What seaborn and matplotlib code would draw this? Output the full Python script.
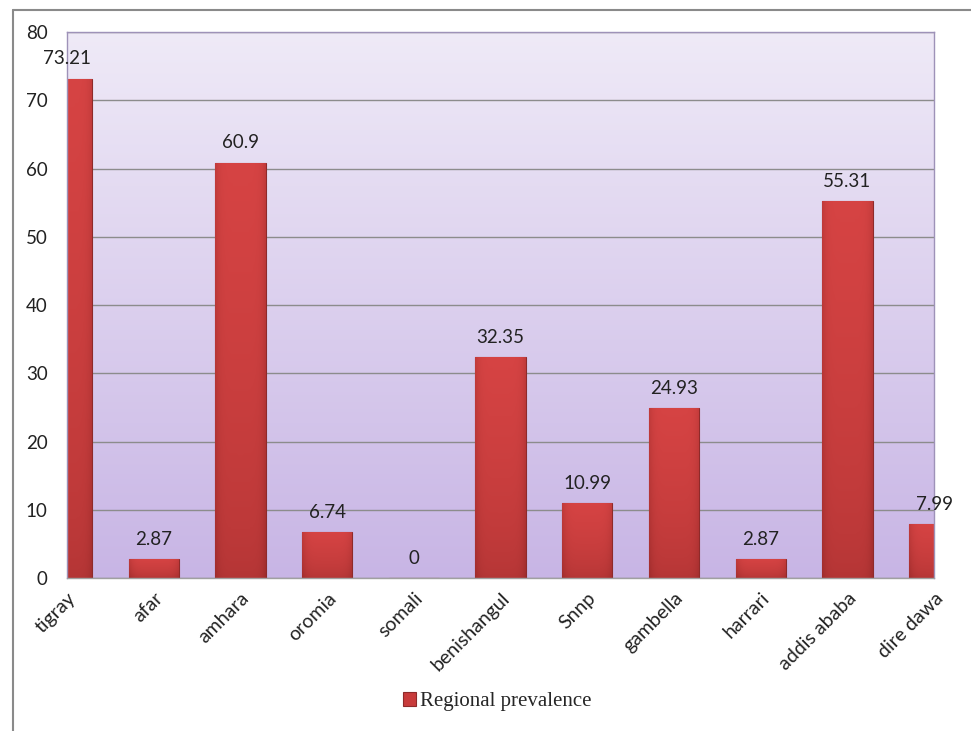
import numpy as np
import pandas as pd
import matplotlib
matplotlib.use("Agg")
import matplotlib.pyplot as plt
import seaborn as sns
from matplotlib.patches import Patch
from matplotlib.lines import Line2D
from matplotlib.colors import LinearSegmentedColormap

regions = ["tigray", "afar", "amhara", "oromia", "somali", "benishangul",
           "Snnp", "gambella", "harrari", "addis ababa", "dire dawa"]
values = [73.21, 2.87, 60.9, 6.74, 0, 32.35, 10.99, 24.93, 2.87, 55.31, 7.99]
value_labels = ["73.21", "2.87", "60.9", "6.74", "0", "32.35", "10.99",
                "24.93", "2.87", "55.31", "7.99"]
y_ticks = [0, 10, 20, 30, 40, 50, 60, 70, 80]
series_name = "Regional prevalence"

sns.set_theme(style="white")
plt.rcParams["font.family"] = ["Lato", "DejaVu Sans"]

df = pd.DataFrame({"region": regions, "value": values})

fig = plt.figure(figsize=(9.71, 7.31), dpi=100)
ax = fig.add_axes([0.069, 0.209, 0.893, 0.747])

# background gradient
bg = LinearSegmentedColormap.from_list("bg", ["#C8B5E5", "#EFEAF7"])
grad = np.linspace(0, 1, 256).reshape(-1, 1)
ax.imshow(grad, cmap=bg, origin="lower", aspect="auto",
          extent=[0, len(regions) - 1, 0, 80], zorder=0, interpolation="bicubic")

sns.barplot(data=df, x="region", y="value", color="#C83B3B", width=0.58,
            edgecolor="#8E2A2A", linewidth=0.8, ax=ax, zorder=2)

# shading inside bars
red = LinearSegmentedColormap.from_list("red", ["#9E2C2C", "#DC4646"])
for p in list(ax.patches):
    p.set_clip_on(True)
    p.set_clip_box(ax.bbox)
    x0, w, h = p.get_x(), p.get_width(), p.get_height()
    if h <= 0:
        continue
    yy = np.linspace(0, 1, 100).reshape(-1, 1)
    xx = np.linspace(-1, 1, 60).reshape(1, -1)
    arr = 0.35 + 0.55 * yy ** 0.6 - 0.35 * np.abs(xx) ** 6
    arr = np.clip(arr, 0, 1)
    im = ax.imshow(arr, cmap=red, vmin=0, vmax=1, origin="lower", aspect="auto",
                   extent=[x0, x0 + w, 0, h], zorder=2.5, interpolation="bicubic")
    im.set_clip_box(ax.bbox)
    im.set_clip_path(p.get_path(), p.get_transform())

for i, (v, lab) in enumerate(zip(values, value_labels)):
    ax.annotate(lab, (i, v), xytext=(0, 8), textcoords="offset points",
                ha="center", va="bottom", fontsize=13.5, color="#222222",
                annotation_clip=False, zorder=5)

ax.set_xlim(0, len(regions) - 1)
ax.set_ylim(0, 80)
ax.set_yticks(y_ticks)
ax.set_yticklabels([str(t) for t in y_ticks], fontsize=13.5, color="#222222")
ax.set_xticks(range(len(regions)))
ax.set_xticklabels(regions, rotation=45, ha="right", rotation_mode="anchor",
                   fontsize=14, color="#222222")
ax.tick_params(axis="y", length=0, pad=14)
ax.tick_params(axis="x", length=0, pad=8)
ax.set_xlabel("")
ax.set_ylabel("")
ax.yaxis.grid(True, color="#8C8C8C", linewidth=1)
ax.set_axisbelow(True)
for s in ax.spines.values():
    s.set_visible(True)
    s.set_color("#9E92B8")
    s.set_linewidth(1)
ax.spines["bottom"].set_color("#A0A0A0")

# outer frame
fig.add_artist(Line2D([13 / 971, 1.0], [1 - 10 / 731, 1 - 10 / 731],
                      transform=fig.transFigure, color="#8A8A8A", lw=1.5))
fig.add_artist(Line2D([13 / 971, 13 / 971], [0, 1 - 10 / 731],
                      transform=fig.transFigure, color="#8A8A8A", lw=1.5))

handle = Patch(facecolor="#C83B3B", edgecolor="#8E2A2A", linewidth=0.8)
fig.legend(handles=[handle], labels=[series_name], loc="center",
           bbox_to_anchor=(0.512, 0.04), frameon=False,
           prop={"family": "Liberation Serif", "size": 15},
           handlelength=0.6, handleheight=0.6, handletextpad=0.2)

fig.savefig("out.png", dpi=100)
